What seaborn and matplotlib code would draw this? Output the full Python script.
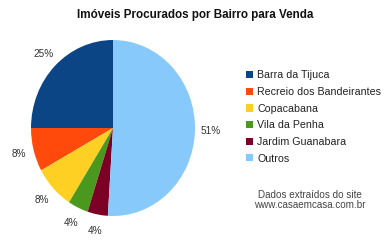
import matplotlib
matplotlib.use("Agg")
import matplotlib.pyplot as plt
import seaborn as sns
from matplotlib.patches import Patch

sns.set_style("white")
plt.rcParams['font.family'] = ['Liberation Sans', 'DejaVu Sans']

title = "Imóveis Procurados por Bairro para Venda"
bairros = ["Barra da Tijuca", "Recreio dos Bandeirantes", "Copacabana",
           "Vila da Penha", "Jardim Guanabara", "Outros"]
percentuais = [25, 8, 8, 4, 4, 51]
cores = ["#0b4585", "#ff4a0c", "#ffd024", "#4b981e", "#7c0026", "#87c9fa"]
fonte = ["Dados extraídos do site", "www.casaemcasa.com.br"]

W, H = 385, 240
fig = plt.figure(figsize=(W / 100, H / 100), dpi=100)
fig.patch.set_facecolor("white")

# pie axes in pixel coordinates
l, r, t, b = 31, 195, 40, 216
ax = fig.add_axes([l / W, 1 - b / H, (r - l) / W, (b - t) / H])
wedges, texts, autotexts = ax.pie(
    percentuais, colors=cores, startangle=90, counterclock=True,
    autopct='%1.0f%%', pctdistance=1.19,
    textprops=dict(fontsize=7.2, color="#333333"),
    wedgeprops=dict(linewidth=0))
ax.set_aspect('auto')
ax.set_xlim(-1, 1)
ax.set_ylim(-1, 1)
ax.axis('off')

fig.text(195 / W, 1 - 15 / H, title, ha='center', va='center',
         fontsize=8.4, fontweight='bold', color='#111111')

handles = [Patch(facecolor=c, edgecolor='none') for c in cores]
leg = fig.legend(handles, bairros, loc='upper left',
                 bbox_to_anchor=(246 / W, 1 - 70.5 / H), frameon=False,
                 fontsize=7.7, handlelength=0.65, handleheight=0.65,
                 handletextpad=0.4, labelspacing=0.62, borderaxespad=0,
                 borderpad=0)
for tx in leg.get_texts():
    tx.set_color('#222222')

fig.text(310 / W, 1 - 195 / H, fonte[0], ha='center', va='center',
         fontsize=7.1, color='#444444')
fig.text(310 / W, 1 - 205 / H, fonte[1], ha='center', va='center',
         fontsize=7.1, color='#444444')

fig.savefig("out.png", dpi=100)
